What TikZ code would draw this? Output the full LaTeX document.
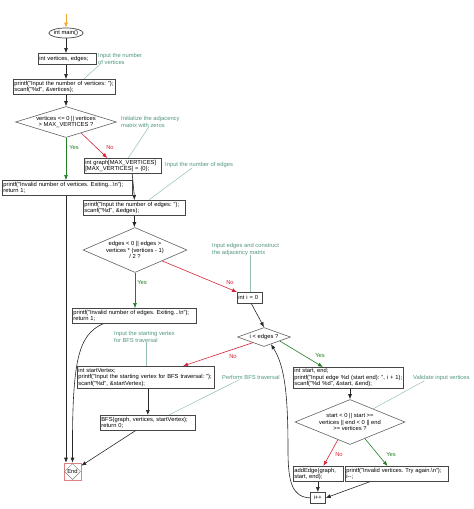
\documentclass[tikz,border=0pt]{standalone}
\usepackage{fontspec}
\setmainfont{Liberation Sans}
\usetikzlibrary{shapes.geometric,arrows.meta,calc}
\definecolor{cmt}{RGB}{80,150,125}
\definecolor{cmtline}{RGB}{150,190,180}
\definecolor{nored}{RGB}{215,35,55}
\definecolor{yesgreen}{RGB}{35,125,35}
\definecolor{flow}{RGB}{40,40,40}
\definecolor{boxline}{RGB}{70,70,70}
\definecolor{startor}{RGB}{245,165,40}
\definecolor{endred}{RGB}{220,130,130}
\frenchspacing
\begin{document}
\begin{tikzpicture}[x=1pt,y=-1pt,
  font=\fontsize{5.8}{6.6}\selectfont,
  proc/.style={draw=boxline, line width=0.7pt, fill=white, rectangle, anchor=north west, inner xsep=1pt, inner ysep=0pt, align=left},
  dec/.style={draw=boxline!85, line width=0.6pt, diamond, inner sep=0pt, fill=white},
  cmtnode/.style={text=cmt, align=left, anchor=north west, inner sep=0pt},
  cline/.style={draw=cmtline, line width=0.5pt},
  arr/.style={flow, line width=0.6pt, -{Latex[length=5pt,width=4pt]}},
  noarr/.style={nored, line width=0.6pt, -{Latex[length=5pt,width=4pt]}},
  yesarr/.style={yesgreen, line width=0.6pt, -{Latex[length=5pt,width=4pt]}},
  nolab/.style={text=nored, inner sep=0pt},
  yeslab/.style={text=yesgreen, inner sep=0pt}]
\useasboundingbox (0,0) rectangle (474,509);

% start / main
\coordinate (s0) at (66,14);
\node[draw=boxline, ellipse, line width=0.7pt, minimum width=34pt, minimum height=10pt, inner sep=0pt] (main) at (66,33) {int main()};

% process boxes
\node[proc, text width=56pt, minimum width=58pt, minimum height=11pt] (vars) at (38,53) {\mbox{int vertices, edges;}};
\node[proc, text width=100pt, minimum width=102pt, minimum height=15pt] (pv) at (13,79) {\mbox{printf("Input the number of vertices: ");}\\scanf("\%d", \&vertices);};
\node[proc, text width=75pt, minimum width=77pt, minimum height=15pt] (gr) at (84,158) {\mbox{int graph[MAX\_VERTICES]}\\\mbox{[MAX\_VERTICES] = \{0\};}};
\node[proc, text width=128pt, minimum width=130pt, minimum height=15pt] (iv) at (2,180) {\mbox{printf("Invalid number of vertices. Exiting...\textbackslash n");}\\return 1;};
\node[proc, text width=100pt, minimum width=102pt, minimum height=15pt] (pe) at (83,200) {\mbox{printf("Input the number of edges: ");}\\scanf("\%d", \&edges);};
\node[proc, text width=122pt, minimum width=124pt, minimum height=15pt] (ie) at (72,308) {\mbox{printf("Invalid number of edges. Exiting...\textbackslash n");}\\return 1;};
\node[proc, text width=23pt, minimum width=25pt, minimum height=11pt] (i0) at (237,292) {\mbox{int i = 0}};
\node[proc, text width=135pt, minimum width=137pt, minimum height=22pt] (sv) at (77,366) {int startVertex;\\\mbox{printf("Input the starting vertex for BFS traversal: ");}\\\mbox{scanf("\%d", \&startVertex);}};
\node[proc, text width=93pt, minimum width=95pt, minimum height=15pt] (bfs) at (100,415) {\mbox{BFS(graph, vertices, startVertex);}\\return 0;};
\node[proc, text width=108pt, minimum width=110pt, minimum height=21pt] (se) at (293,367) {int start, end;\\\mbox{printf("Input edge \%d (start end): ", i + 1);}\\\mbox{scanf("\%d \%d", \&start, \&end);}};
\node[proc, text width=48pt, minimum width=50pt, minimum height=15pt] (ae) at (293,466) {\mbox{addEdge(graph,}\\start, end);};
\node[proc, text width=101pt, minimum width=103pt, minimum height=15pt] (iv2) at (345,466) {\mbox{printf("Invalid vertices. Try again.\textbackslash n");}\\i-{}-;};
\node[proc, align=center, inner xsep=0pt, minimum width=15pt, minimum height=11pt] (ipp) at (310,492) {i++};

% decisions
\node[dec, minimum width=101pt, minimum height=31pt, label={[align=center]center:{vertices <= 0 || vertices\\> MAX\_VERTICES ?}}] (d1) at (66,122) {};
\node[dec, minimum width=104pt, minimum height=45pt, label={[align=center]center:{edges < 0 || edges >\\vertices * (vertices - 1)\\/ 2 ?}}] (d2) at (135,250) {};
\node[dec, minimum width=53pt, minimum height=19pt, label={[align=center]center:{i < edges ?}}] (d3) at (264,337) {};
\node[dec, minimum width=110pt, minimum height=45pt, label={[align=center]center:{start < 0 || start >=\\vertices || end < 0 || end\\>= vertices ?}}] (d4) at (350,422) {};

% end
\node[draw=endred, line width=0.6pt, minimum size=17pt, inner sep=0pt] (End) at (72.5,471.5) {};
\node[diamond, draw=boxline!70, line width=0.5pt, minimum width=16pt, minimum height=16pt, inner sep=0pt] (Endd) at (End) {End};

% comments
\node[cmtnode] (c1) at (98,53) {Input the number\\of vertices};
\node[cmtnode] (c2) at (121,116) {Initialize the adjacency\\matrix with zeros};
\node[cmtnode] (c3) at (165,162) {Input the number of edges};
\node[cmtnode] (c4) at (212,243) {Input edges and construct\\the adjacency matrix};
\node[cmtnode] (c5) at (114,331) {Input the starting vertex\\for BFS traversal};
\node[cmtnode] (c6) at (222,375) {Perform BFS traversal};
\node[cmtnode] (c7) at (413,375) {Validate input vertices};

\draw[cline] ($(c1.south west)+(2,0)$) -- ($(pv.north west)!0.69!(pv.north east)$);
\draw[cline] ($(c2.south west)!0.47!(c2.south east)$) -- ($(gr.north west)!0.57!(gr.north east)$);
\draw[cline] ($(c3.south west)!0.4!(c3.south east)$) -- ($(pe.north west)!0.64!(pe.north east)$);
\draw[cline] (c4.south -| i0.north) -- (i0.north);
\draw[cline] (c5.south -| sv.north) -- (sv.north);
\draw[cline] ($(c6.south west)!0.3!(c6.south east)$) -- ($(bfs.north west)!0.72!(bfs.north east)$);
\draw[cline] ($(c7.south west)!0.2!(c7.south east)$) -- ($(d4.north)!0.42!(d4.east)$);

% flow
\draw[startor, line width=0.8pt, -{Latex[length=5pt,width=4pt]}] (s0) -- (main.north);
\draw[arr] (main.south) -- (main.south |- vars.north);
\draw[arr] (main.south |- vars.south) -- (main.south |- pv.north);
\draw[arr] (main.south |- pv.south) -- (d1.north);
\draw[noarr] ($(d1.south)!0.3!(d1.east)$) -- ($(gr.north west)!0.3!(gr.north east)$);
\draw[yesarr] (d1.south) -- (d1.south |- iv.north);
\draw[arr] ($(gr.south west)!0.62!(gr.south east)$) .. controls (134,185) .. (pe.north);
\draw[arr] (pe.south) -- (pe.south |- d2.north);
\draw[yesarr] (d2.south) -- (d2.south |- ie.north);
\draw[noarr] ($(d2.south)!0.52!(d2.east)$) -- (i0.north west);
\draw[arr] (d1.south |- iv.south) -- (d1.south |- End.north);
\draw[arr] ($(ie.south west)!0.25!(ie.south east)$) .. controls (78,335) and (72,360) .. (End.north);
\draw[arr] ($(bfs.south west)!0.37!(bfs.south east)$) -- ([yshift=-3pt]End.north east);
\draw[arr] ($(i0.south west)!0.56!(i0.south east)$) -- (d3.north);
\draw[noarr] ($(d3.south)!0.42!(d3.west)$) -- ($(sv.north west)!0.77!(sv.north east)$);
\draw[yesarr] ($(d3.south)!0.59!(d3.east)$) -- ($(se.north west)!0.27!(se.north east)$);
\draw[arr] (bfs.north |- sv.south) -- (bfs.north);
\draw[arr] (d4.north |- se.south) -- (d4.north);
\draw[noarr] ($(d4.south)!0.22!(d4.west)$) -- ($(ae.north west)!0.6!(ae.north east)$);
\draw[yesarr] ($(d4.south)!0.27!(d4.east)$) -- ($(iv2.north west)!0.41!(iv2.north east)$);
\draw[arr] (ipp.north |- ae.south) -- (ipp.north);
\draw[arr] ($(iv2.south west)!0.24!(iv2.south east)$) -- (ipp.east);
\draw[arr] (ipp.west) .. controls (292,497) and (288,482) .. (288,450) .. controls (288,390) and (284,365) .. ($(d3.south)!0.26!(d3.east)$);

% labels
\node[yeslab] (y1) at (74,148) {Yes};
\node[nolab] (n1) at (110,148) {No};
\node[yeslab] (y2) at (142,283) {Yes};
\node[nolab] (n2) at (230,283) {No};
\node[nolab] (n3) at (233,357) {No};
\node[yeslab] (y3) at (320,356) {Yes};
\node[nolab] (n4) at (339,455) {No};
\node[yeslab] (y4) at (391,455) {Yes};
\end{tikzpicture}
\end{document}
